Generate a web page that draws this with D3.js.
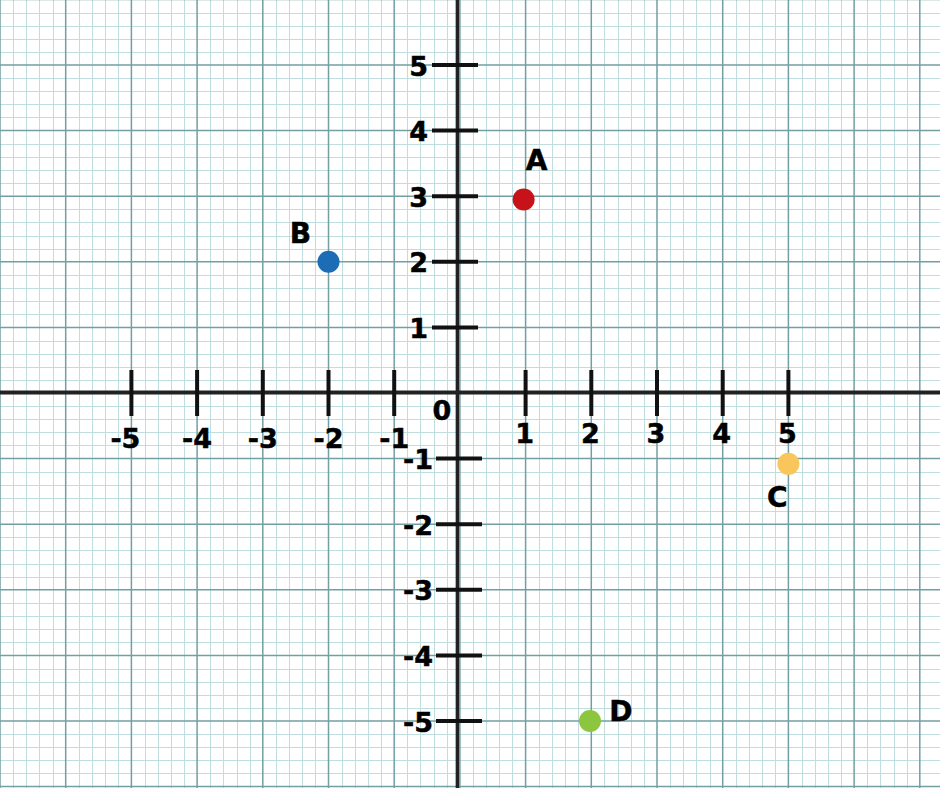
<!DOCTYPE html>
<html>
<head>
<meta charset="utf-8">
<script src="https://cdn.jsdelivr.net/npm/d3@7"></script>
<style>
  html, body { margin: 0; padding: 0; background: #fff; }
  svg { display: block; }
  text { font-family: "DejaVu Sans", "Liberation Sans", Arial, sans-serif; font-weight: bold; fill: #000; stroke: #000; stroke-width: 0.5px; }
</style>
</head>
<body>
<svg id="chart" width="940" height="788"></svg>
<script>
// ---- data ----
const pointNames = ["A", "B", "C", "D"];
const pointX = [0.97, -2, 5, 1.98];
const pointY = [2.95, 2, -1.08, -5];
const pointColors = ["#c8121a", "#1c6cb6", "#f8c65a", "#8cc63f"];
const xTickValues = [-5, -4, -3, -2, -1, 1, 2, 3, 4, 5];
const yTickValues = [-5, -4, -3, -2, -1, 1, 2, 3, 4, 5];
const originLabel = "0";

// ---- layout ----
const W = 940, H = 788;
const ox = 459.9, oy = 393, ux = 65.7, uy = 65.6;
const x = d3.scaleLinear().domain([-7, 7]).range([ox - 7 * ux, ox + 7 * ux]);
const y = d3.scaleLinear().domain([-6, 6]).range([oy + 6 * uy, oy - 6 * uy]);

const svg = d3.select("#chart");
svg.append("rect").attr("width", W).attr("height", H).attr("fill", "#fff");

// grid
const minorX = d3.range(-35, 36).filter(i => i % 5 !== 0).map(i => i / 5);
const minorY = d3.range(-30, 31).filter(i => i % 5 !== 0).map(i => i / 5);
const majorX = d3.range(-7, 8);
const majorY = d3.range(-6, 7);
const grid = svg.append("g");
grid.selectAll(".mx").data(minorX).join("line")
  .attr("x1", d => Math.round(x(d)) + 0.5).attr("x2", d => Math.round(x(d)) + 0.5).attr("y1", 0).attr("y2", H)
  .attr("stroke", "#c0dedf").attr("stroke-width", 1);
grid.selectAll(".my").data(minorY).join("line")
  .attr("y1", d => Math.round(y(d)) + 0.5).attr("y2", d => Math.round(y(d)) + 0.5).attr("x1", 0).attr("x2", W)
  .attr("stroke", "#c0dedf").attr("stroke-width", 1);
grid.selectAll(".Mx").data(majorX).join("line")
  .attr("x1", d => x(d)).attr("x2", d => x(d)).attr("y1", 0).attr("y2", H)
  .attr("stroke", "#739fa3").attr("stroke-width", 1.5);
grid.selectAll(".My").data(majorY).join("line")
  .attr("y1", d => y(d)).attr("y2", d => y(d)).attr("x1", 0).attr("x2", W)
  .attr("stroke", "#739fa3").attr("stroke-width", 1.5);

// axes
const axisColor = "#222";
const axX = ox - 2.5;
svg.append("line").attr("x1", 0).attr("x2", W).attr("y1", oy - 0.5).attr("y2", oy - 0.5)
  .attr("stroke", axisColor).attr("stroke-width", 4);
svg.append("line").attr("x1", axX).attr("x2", axX).attr("y1", 0).attr("y2", H)
  .attr("stroke", axisColor).attr("stroke-width", 3.5);

// x ticks
svg.append("g").selectAll("line").data(xTickValues).join("line")
  .attr("x1", d => x(d)).attr("x2", d => x(d)).attr("y1", oy - 23).attr("y2", oy + 23)
  .attr("stroke", "#111").attr("stroke-width", 4);
svg.append("g").selectAll("text").data(xTickValues).join("text")
  .attr("x", d => x(d) + (d === -5 ? -6 : d > 0 ? -1 : 0))
  .attr("y", d => d < 0 ? 448 : 443)
  .attr("text-anchor", "middle").attr("font-size", 27)
  .text(d => d < 0 ? "-" + Math.abs(d) : String(d));

// y ticks
svg.append("g").selectAll("line").data(yTickValues).join("line")
  .attr("x1", d => d > 0 ? 432 : 436).attr("x2", d => d > 0 ? 478 : 482)
  .attr("y1", d => y(d)).attr("y2", d => y(d))
  .attr("stroke", "#111").attr("stroke-width", 4);
svg.append("g").selectAll("text").data(yTickValues).join("text")
  .attr("x", d => d > 0 ? 428 : 433)
  .attr("y", d => y(d) + 10.5)
  .attr("text-anchor", "end").attr("font-size", 27)
  .text(d => d < 0 ? "-" + Math.abs(d) : String(d));

// origin label
svg.append("text").attr("x", 442).attr("y", 420).attr("text-anchor", "middle")
  .attr("font-size", 27).text(originLabel);

// points
const pts = pointNames.map((n, i) => ({ name: n, x: pointX[i], y: pointY[i], color: pointColors[i] }));
const labelOffset = { A: [13, -29], B: [-28, -19], C: [-11, 43], D: [31, 0] };
svg.append("g").selectAll("circle").data(pts).join("circle")
  .attr("cx", d => x(d.x)).attr("cy", d => y(d.y)).attr("r", 11)
  .attr("fill", d => d.color);
svg.append("g").selectAll("text").data(pts).join("text")
  .attr("x", d => x(d.x) + labelOffset[d.name][0])
  .attr("y", d => y(d.y) + labelOffset[d.name][1])
  .attr("text-anchor", "middle").attr("font-size", 28)
  .text(d => d.name);
</script>
</body>
</html>
